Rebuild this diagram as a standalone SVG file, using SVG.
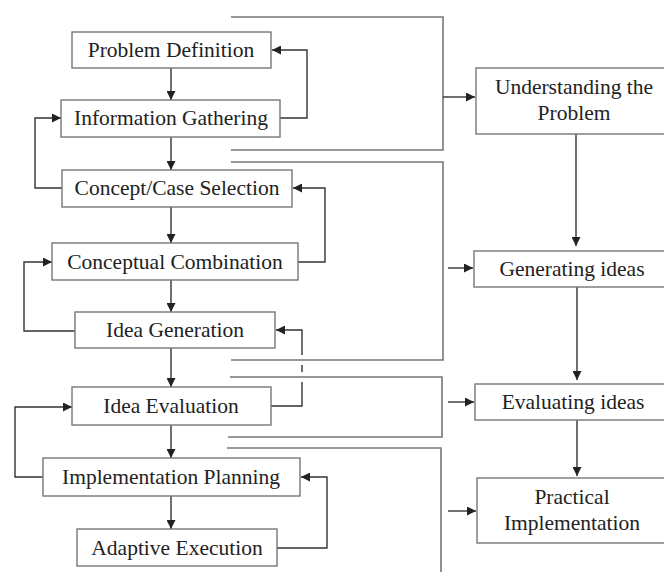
<svg xmlns="http://www.w3.org/2000/svg" width="664" height="572" viewBox="0 0 664 572">
<defs>
<marker id="ah" viewBox="0 0 10 10" refX="10" refY="5" markerWidth="9" markerHeight="9" markerUnits="userSpaceOnUse" orient="auto">
<path d="M0,0 L10,5 L0,10 z" fill="#222"/>
</marker>
</defs>
<style>
.box{fill:#fff;stroke:#777;stroke-width:1.4}
.t{font-family:"Liberation Serif","Times New Roman",serif;font-size:21.5px;fill:#222;text-anchor:middle}
.c{fill:none;stroke:#333;stroke-width:1.4}
.a{fill:none;stroke:#333;stroke-width:1.4;marker-end:url(#ah)}
.b{fill:none;stroke:#777;stroke-width:1.6}
</style>
<rect width="664" height="572" fill="#fff"/>
<g id="connectors">
<!-- vertical chain -->
<line class="a" x1="171" y1="68" x2="171" y2="100"/>
<line class="a" x1="171" y1="137" x2="171" y2="170"/>
<line class="a" x1="171" y1="207" x2="171" y2="243"/>
<line class="a" x1="171" y1="280" x2="171" y2="312"/>
<line class="a" x1="171" y1="348" x2="171" y2="387"/>
<line class="a" x1="171" y1="425" x2="171" y2="458"/>
<line class="a" x1="171" y1="496" x2="171" y2="529"/>
<!-- feedback loops -->
<polyline class="a" points="280,118 307,118 307,50 272,50"/>
<polyline class="a" points="62,188 35,188 35,118 61,118"/>
<polyline class="a" points="298,262 325,262 325,188 293,188"/>
<polyline class="a" points="75,331 24,331 24,262 52,262"/>
<polyline class="c" points="271,406 302,406 302,382"/>
<line class="c" x1="302" y1="365" x2="302" y2="372"/>
<polyline class="a" points="302,355 302,330 276,330"/>
<polyline class="a" points="43,477 15,477 15,407 72,407"/>
<polyline class="a" points="277,548 327,548 327,477 301,477"/>
<!-- brackets -->
<polyline class="b" points="231,17 443,17 443,150 231,150"/>
<polyline class="b" points="231,162 443,162 443,360 231,360"/>
<polyline class="b" points="230,377 442,377 442,437 228,437"/>
<polyline class="b" points="227,448 441,448 441,572"/>
<line class="a" x1="443" y1="97" x2="475" y2="97"/>
<line class="a" x1="448" y1="268" x2="473" y2="268"/>
<line class="a" x1="448" y1="402" x2="474" y2="402"/>
<line class="a" x1="448" y1="511" x2="476" y2="511"/>
<!-- right chain -->
<line class="a" x1="576" y1="134" x2="576" y2="246"/>
<line class="a" x1="577" y1="287" x2="577" y2="380"/>
<line class="a" x1="577" y1="420" x2="577" y2="476"/>
</g>
<g id="problem-definition"><rect class="box" x="72" y="32" width="199" height="36"/><text class="t" x="171" y="57">Problem Definition</text></g>
<g id="information-gathering"><rect class="box" x="61" y="100" width="219" height="37"/><text class="t" x="171" y="125">Information Gathering</text></g>
<g id="concept-case-selection"><rect class="box" x="62" y="170" width="230" height="37"/><text class="t" x="177" y="195">Concept/Case Selection</text></g>
<g id="conceptual-combination"><rect class="box" x="52" y="243" width="246" height="37"/><text class="t" x="175" y="269">Conceptual Combination</text></g>
<g id="idea-generation"><rect class="box" x="75" y="312" width="200" height="36"/><text class="t" x="175" y="337">Idea Generation</text></g>
<g id="idea-evaluation"><rect class="box" x="72" y="387" width="199" height="38"/><text class="t" x="171" y="413">Idea Evaluation</text></g>
<g id="implementation-planning"><rect class="box" x="43" y="458" width="257" height="38"/><text class="t" x="171" y="484">Implementation Planning</text></g>
<g id="adaptive-execution"><rect class="box" x="77" y="529" width="200" height="37"/><text class="t" x="177" y="555">Adaptive Execution</text></g>
<g id="understanding-the-problem"><rect class="box" x="476" y="68" width="200" height="66"/><text class="t" x="574" y="94">Understanding the</text><text class="t" x="574" y="120">Problem</text></g>
<g id="generating-ideas"><rect class="box" x="474" y="251" width="200" height="36"/><text class="t" x="572" y="276">Generating ideas</text></g>
<g id="evaluating-ideas"><rect class="box" x="475" y="384" width="200" height="36"/><text class="t" x="573" y="409">Evaluating ideas</text></g>
<g id="practical-implementation"><rect class="box" x="477" y="478" width="200" height="65"/><text class="t" x="572" y="504">Practical</text><text class="t" x="572" y="530">Implementation</text></g>
</svg>
